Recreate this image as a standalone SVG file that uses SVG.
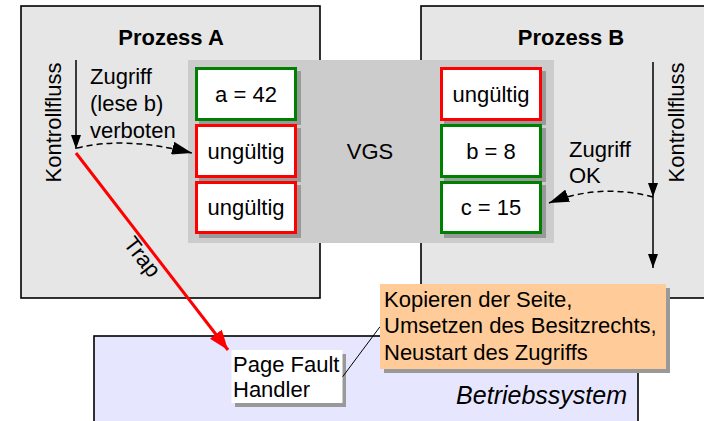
<svg xmlns="http://www.w3.org/2000/svg" width="704" height="421" viewBox="0 0 704 421">
<style>
text{font-family:"Liberation Sans",Arial,sans-serif;font-size:22px;fill:#000}
.title{font-weight:bold}
.proc{fill:#e6e6e6;stroke:#000;stroke-width:1.6}
.cell{fill:#fff;stroke-width:3}
.ok{stroke:#008000}
.bad{stroke:#ff0000}
.shadow{fill:#999}
.c{text-anchor:middle}
.os{font-style:italic;font-size:25px;text-anchor:end}
.dash{fill:none;stroke:#000;stroke-width:1.5;stroke-dasharray:6,4}
.flow{stroke:#000;stroke-width:1.5;fill:none}
</style>
<defs>
<marker id="small" markerUnits="userSpaceOnUse" markerWidth="14" markerHeight="10" refX="14" refY="5" orient="auto"><path d="M0,0 L14,5 L0,10 z" fill="#000"/></marker>
<marker id="big" markerUnits="userSpaceOnUse" markerWidth="20" markerHeight="13" refX="20" refY="6.5" orient="auto"><path d="M0,0 L20,6.5 L0,13 z" fill="#000"/></marker>
<marker id="red" markerUnits="userSpaceOnUse" markerWidth="20" markerHeight="15" refX="20" refY="7.5" orient="auto"><path d="M0,0 L20,7.5 L0,15 z" fill="#ff0000"/></marker>
</defs>

<g id="prozessA">
<rect class="proc" x="21" y="6" width="299" height="292"/>
<text class="title c" x="171" y="45">Prozess A</text>
<text class="c" transform="translate(61,122.5) rotate(-90)">Kontrollfluss</text>
<text x="90" y="84">Zugriff</text>
<text x="90" y="111">(lese b)</text>
<text x="90" y="138">verboten</text>
</g>

<g id="prozessB">
<rect class="proc" x="421" y="6" width="300" height="292"/>
<text class="title c" x="571" y="45">Prozess B</text>
<text class="c" transform="translate(684,122.5) rotate(-90)">Kontrollfluss</text>
<text x="569" y="157">Zugriff</text>
<text x="569" y="183">OK</text>
</g>

<g id="vgs">
<rect x="188" y="60" width="366" height="183" fill="#cccccc"/>
<text class="c" x="370" y="159">VGS</text>
</g>

<g id="seitenA">
<g id="a42"><rect class="shadow" x="199" y="71" width="102" height="54"/><rect class="cell ok" x="196.5" y="68.5" width="99" height="51"/><text class="c" x="246" y="102">a = 42</text></g>
<g id="a2"><rect class="shadow" x="199" y="128" width="102" height="54"/><rect class="cell bad" x="196.5" y="125.5" width="99" height="51"/><text class="c" x="246" y="159">ungültig</text></g>
<g id="a3"><rect class="shadow" x="199" y="185" width="102" height="53"/><rect class="cell bad" x="196.5" y="182.5" width="99" height="50"/><text class="c" x="246" y="215">ungültig</text></g>
</g>

<g id="seitenB">
<g id="b1"><rect class="shadow" x="444" y="71" width="102" height="54"/><rect class="cell bad" x="441.5" y="68.5" width="99" height="51"/><text class="c" x="491" y="102">ungültig</text></g>
<g id="b8"><rect class="shadow" x="444" y="128" width="102" height="54"/><rect class="cell ok" x="441.5" y="125.5" width="99" height="51"/><text class="c" x="491" y="159">b = 8</text></g>
<g id="c15"><rect class="shadow" x="444" y="185" width="102" height="53"/><rect class="cell ok" x="441.5" y="182.5" width="99" height="50"/><text class="c" x="491" y="215">c = 15</text></g>
</g>

<g id="betriebssystem">
<rect x="94" y="336" width="544" height="100" fill="#e6e6ff" stroke="#000" stroke-width="1.6"/>
<text class="os" x="627" y="404">Betriebssystem</text>
</g>

<g id="pagefault">
<rect class="shadow" x="235" y="354" width="111" height="53"/>
<rect x="231.5" y="350" width="111" height="53" fill="#fff"/>
<text x="233" y="372">Page Fault</text>
<text x="233" y="397">Handler</text>
</g>

<g id="connectors">
<path class="flow" d="M76,60 L76,149" marker-end="url(#small)"/>
<path class="dash" d="M77,148 Q125,136 192,153" marker-end="url(#big)"/>
<path class="flow" d="M653,62 L653,197" marker-end="url(#small)"/>
<path class="flow" d="M653,197 L653,268" marker-end="url(#small)"/>
<path class="dash" d="M653,197 Q600,183 549,203" marker-end="url(#big)"/>
<path d="M76,153 L228,350" stroke="#ff0000" stroke-width="3" fill="none" marker-end="url(#red)"/>
<text class="c" transform="translate(136.5,261.5) rotate(52)">Trap</text>
<path d="M342.7,376.7 L380,326.7" stroke="#000" stroke-width="1" fill="none"/>
</g>

<g id="notiz">
<rect class="shadow" x="384" y="288" width="286" height="85"/>
<rect x="380" y="284" width="286" height="85" fill="#ffcc99"/>
<text x="384" y="307">Kopieren der Seite,</text>
<text x="384" y="333">Umsetzen des Besitzrechts,</text>
<text x="384" y="360">Neustart des Zugriffs</text>
</g>
</svg>
